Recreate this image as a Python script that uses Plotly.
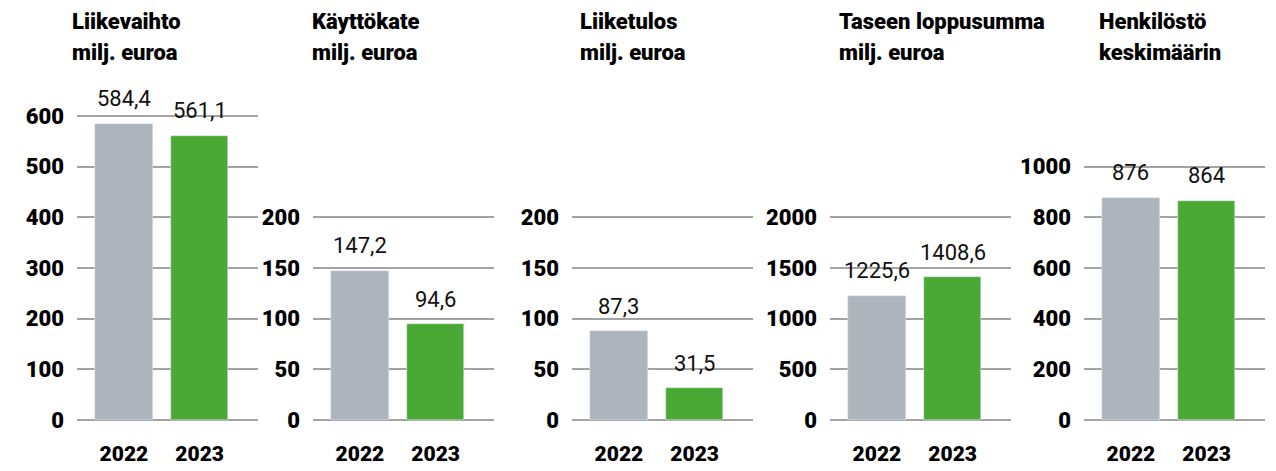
import plotly.graph_objects as go

# ---- data ----
years = ["2022", "2023"]
titles_line1 = ["Liikevaihto", "Käyttökate", "Liiketulos", "Taseen loppusumma", "Henkilöstö"]
titles_line2 = ["milj. euroa", "milj. euroa", "milj. euroa", "milj. euroa", "keskimäärin"]
liikevaihto = [584.4, 561.1]
kayttokate = [147.2, 94.6]
liiketulos = [87.3, 31.5]
taseen_loppusumma = [1225.6, 1408.6]
henkilosto = [876, 864]
labels_liikevaihto = ["584,4", "561,1"]
labels_kayttokate = ["147,2", "94,6"]
labels_liiketulos = ["87,3", "31,5"]
labels_taseen = ["1225,6", "1408,6"]
labels_henkilosto = ["876", "864"]
tick_liikevaihto = [0, 100, 200, 300, 400, 500, 600]
tick_kayttokate = [0, 50, 100, 150, 200]
tick_liiketulos = [0, 50, 100, 150, 200]
tick_taseen = [0, 500, 1000, 1500, 2000]
tick_henkilosto = [0, 200, 400, 600, 800, 1000]

series = [liikevaihto, kayttokate, liiketulos, taseen_loppusumma, henkilosto]
labels = [labels_liikevaihto, labels_kayttokate, labels_liiketulos, labels_taseen, labels_henkilosto]
ticks = [tick_liikevaihto, tick_kayttokate, tick_liiketulos, tick_taseen, tick_henkilosto]

# ---- layout geometry (pixels) ----
W, H = 1276, 471
panel_left = [77, 313, 572, 830, 1084]
panel_width = 181
title_x = [70, 310, 578, 837, 1097]
y_bottom_px, y_top_px, zero_px = 425, 60, 420
step_px = 50.7

GRAY = "#aeb4bb"
GREEN = "#4aa834"
GRID = "#a3a3a3"
BOLD = "Roboto"

fig = go.Figure()

for i in range(5):
    n = "" if i == 0 else str(i + 1)
    step = ticks[i][1] - ticks[i][0]
    upp = step / step_px
    fig.add_trace(go.Bar(
        x=years, y=series[i], marker_color=[GRAY, GREEN], width=0.76,
        xaxis="x" + n, yaxis="y" + n, showlegend=False, hoverinfo="skip",
    ))
    for j in range(len(years)):
        fig.add_annotation(
            x=j, y=series[i][j], xref="x" + n, yref="y" + n,
            text=labels[i][j], showarrow=False, yanchor="middle", yshift=25,
            font=dict(family="Roboto", size=22, color="#111111", weight=400),
        )
    fig.update_layout(**{
        "xaxis" + n: dict(
            domain=[panel_left[i] / W, (panel_left[i] + panel_width) / W],
            anchor="y" + n, type="category", range=[-0.62, 1.77],
            showgrid=False, showline=False, zeroline=False, ticks="",
            tickfont=dict(family=BOLD, size=21, color="black", weight=900),
            ticklabelstandoff=14, fixedrange=True, automargin=False,
        ),
        "yaxis" + n: dict(
            domain=[1 - y_bottom_px / H, 1 - y_top_px / H],
            anchor="x" + n,
            range=[-(y_bottom_px - zero_px) * upp, (zero_px - y_top_px) * upp],
            tickvals=ticks[i], showgrid=True, gridcolor=GRID, gridwidth=2,
            zeroline=False, showline=False, ticks="",
            tickfont=dict(family=BOLD, size=22, color="black", weight=900),
            ticklabelstandoff=12, fixedrange=True, automargin=False,
        ),
    })
    fig.add_annotation(x=title_x[i] / W, y=1 - 22 / H, xref="paper", yref="paper",
                       text=titles_line1[i], showarrow=False, xanchor="left", yanchor="middle",
                       font=dict(family=BOLD, size=22, color="black", weight=900))
    fig.add_annotation(x=title_x[i] / W, y=1 - 53 / H, xref="paper", yref="paper",
                       text=titles_line2[i], showarrow=False, xanchor="left", yanchor="middle",
                       font=dict(family=BOLD, size=22, color="black", weight=900))

fig.update_layout(
    width=W, height=H, margin=dict(l=0, r=0, t=0, b=0, autoexpand=False),
    paper_bgcolor="white", plot_bgcolor="white", bargap=0,
)

post = (
    "document.documentElement.style.margin='0';"
    "document.documentElement.style.overflow='hidden';"
    "document.body.style.margin='0';"
    "document.body.style.overflow='hidden';"
    "var gd=document.querySelector('.plotly-graph-div');"
    "gd.style.display='block';"
)
fig.write_html("out.html", config={"displayModeBar": False}, post_script=post)
